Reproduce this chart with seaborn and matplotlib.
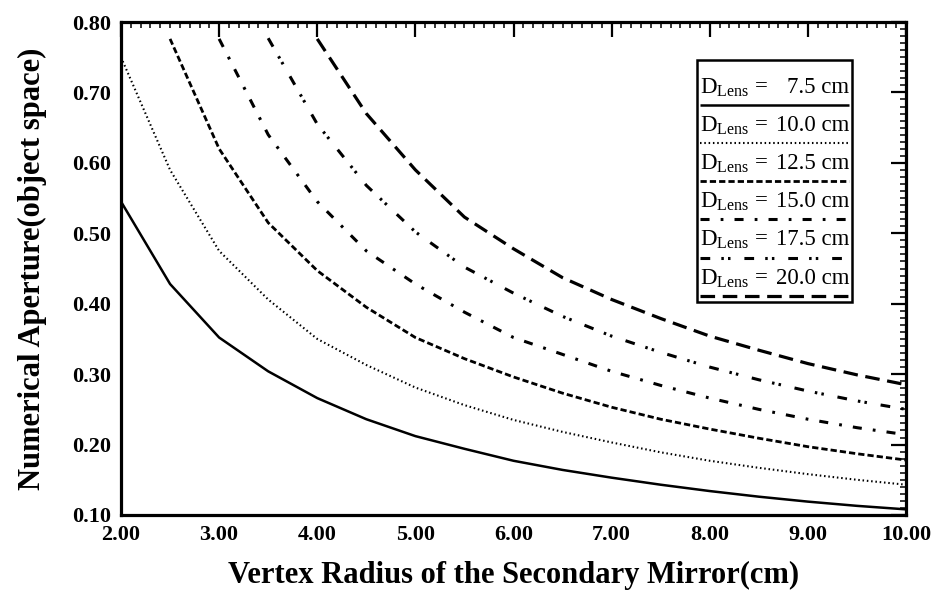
import matplotlib
matplotlib.use("Agg")
import matplotlib.pyplot as plt
import seaborn as sns
import pandas as pd
from matplotlib.ticker import MultipleLocator, FormatStrFormatter
from matplotlib.patches import Rectangle

# Vertex radius of the secondary mirror (cm), sampled every 0.5 cm
radius_cm = [2.0, 2.5, 3.0, 3.5, 4.0, 4.5, 5.0, 5.5, 6.0,
             6.5, 7.0, 7.5, 8.0, 8.5, 9.0, 9.5, 10.0]

# Numerical aperture (object space) for each lens diameter.
# Series for larger lenses begin at the first radius where NA < 0.80.
na_d075 = [0.545, 0.428, 0.352, 0.304, 0.266, 0.236, 0.212, 0.194, 0.177,
           0.164, 0.153, 0.143, 0.134, 0.126, 0.119, 0.113, 0.108]
na_d100 = [0.750, 0.590, 0.475, 0.406, 0.350, 0.313, 0.281, 0.256, 0.235,
           0.218, 0.203, 0.189, 0.177, 0.167, 0.158, 0.150, 0.143]
na_d125 = [0.776, 0.620, 0.515, 0.447, 0.395, 0.352, 0.322, 0.296,
           0.273, 0.253, 0.236, 0.222, 0.209, 0.197, 0.187, 0.178]
na_d150 = [0.776, 0.640, 0.545, 0.475, 0.428, 0.388, 0.352, 0.328,
           0.304, 0.284, 0.266, 0.250, 0.236, 0.224, 0.214]
na_d175 = [0.777, 0.655, 0.568, 0.502, 0.452, 0.415, 0.382,
           0.354, 0.331, 0.310, 0.292, 0.276, 0.262, 0.250]
na_d200 = [0.776, 0.670, 0.590, 0.523, 0.478, 0.437, 0.406,
           0.379, 0.354, 0.334, 0.315, 0.299, 0.285]

legend_values = ["7.5 cm", "10.0 cm", "12.5 cm", "15.0 cm", "17.5 cm", "20.0 cm"]
x_ticks = [2, 3, 4, 5, 6, 7, 8, 9, 10]
y_ticks = [0.1, 0.2, 0.3, 0.4, 0.5, 0.6, 0.7, 0.8]

series = [na_d075, na_d100, na_d125, na_d150, na_d175, na_d200]

# line style per lens diameter (dash lengths in points)
styles = [
    dict(linestyle="-", lw=1.8),
    dict(linestyle=(0, (1.1, 2.0)), lw=1.5),
    dict(linestyle=(0, (4.5, 2.2)), lw=2.0),
    dict(linestyle=(0, (6.5, 8.0, 2.0, 8.0)), lw=2.2),
    dict(linestyle=(0, (7.0, 8.0, 1.8, 3.0, 1.8, 10.0)), lw=2.2),
    dict(linestyle=(0, (10.5, 5.5)), lw=2.3),
]

sns.set_theme(style="white")
plt.rcParams["font.family"] = ["Liberation Serif", "DejaVu Serif"]
plt.rcParams["mathtext.fontset"] = "custom"
plt.rcParams["mathtext.rm"] = "Liberation Serif"
plt.rcParams["lines.scale_dashes"] = False
plt.rcParams["text.color"] = "black"
plt.rcParams["axes.labelcolor"] = "black"
plt.rcParams["xtick.color"] = "black"
plt.rcParams["ytick.color"] = "black"

fig = plt.figure(figsize=(9.41, 5.99), dpi=100)
ax = fig.add_axes([121 / 941, 84 / 599, 785 / 941, 493 / 599])

for vals, label, st in zip(series, legend_values, styles):
    df = pd.DataFrame({"radius": radius_cm[-len(vals):], "na": vals})
    sns.lineplot(data=df, x="radius", y="na", ax=ax, color="black",
                 estimator=None, sort=False, legend=False,
                 solid_capstyle="butt", dash_capstyle="butt", **st)

ax.set_xlim(2, 10)
ax.set_ylim(0.1, 0.8)
ax.set_xticks(x_ticks)
ax.set_yticks(y_ticks)
ax.xaxis.set_major_formatter(FormatStrFormatter("%.2f"))
ax.yaxis.set_major_formatter(FormatStrFormatter("%.2f"))
ax.xaxis.set_minor_locator(MultipleLocator(0.1))
ax.yaxis.set_minor_locator(MultipleLocator(0.01))
ax.tick_params(which="both", direction="in", top=True, right=True,
               colors="black")
ax.tick_params(which="major", length=11, width=1.6, labelsize=16, pad=7)
ax.tick_params(which="minor", length=4, width=1.1)
for lab in ax.get_xticklabels() + ax.get_yticklabels():
    lab.set_fontweight("bold")
for sp in ax.spines.values():
    sp.set_visible(True)
    sp.set_color("black")
    sp.set_linewidth(2.3)

ax.set_xlabel("Vertex Radius of the Secondary Mirror(cm)", fontsize=22,
              fontweight="bold", labelpad=12, color="black")
ax.set_ylabel("Numerical Aperture(object space)", fontsize=22,
              fontweight="bold", labelpad=18, color="black")
ax.grid(False)

# boxed legend: label text with the line sample drawn underneath
box_l, box_r, box_t, box_b = 0.734, 0.931, 0.923, 0.432
ax.add_patch(Rectangle((box_l, box_b), box_r - box_l, box_t - box_b,
                       transform=ax.transAxes, fill=False, lw=1.8,
                       edgecolor="black", zorder=5))
row_h = 0.0775
for i, (label, st) in enumerate(zip(legend_values, styles)):
    top = box_t - i * row_h
    ty = top - 0.055
    ly = top - 0.091
    ax.text(box_l + 0.003, ty, r"D$_{\rm Lens}$ =", transform=ax.transAxes,
            fontsize=16.5, va="center", ha="left", zorder=6, color="black")
    ax.text(box_r - 0.003, ty, label, transform=ax.transAxes,
            fontsize=16.5, va="center", ha="right", zorder=6, color="black")
    ax.plot([box_l + 0.003, box_r - 0.003], [ly, ly], transform=ax.transAxes,
            color="black", solid_capstyle="butt", dash_capstyle="butt",
            zorder=6, **st)

fig.savefig("out.png", dpi=100, facecolor="white")
